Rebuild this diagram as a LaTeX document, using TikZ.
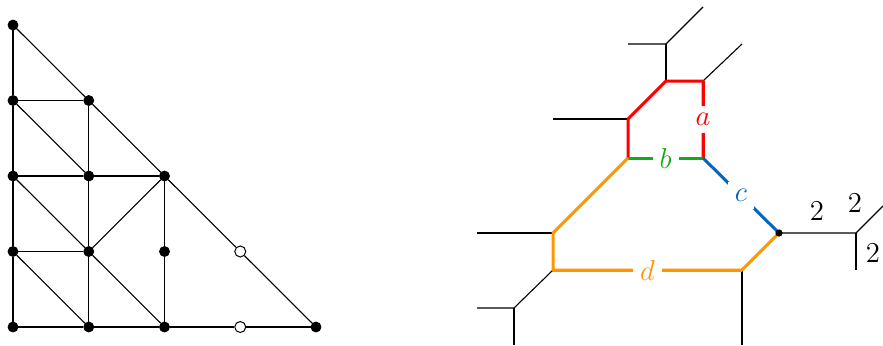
\documentclass[tikz,border=0pt]{standalone}
\usepackage{tikz}
\definecolor{cred}{RGB}{255,0,0}
\definecolor{cgreen}{RGB}{20,170,20}
\definecolor{cblue}{RGB}{0,102,190}
\definecolor{corange}{RGB}{255,150,0}
\tikzset{
  dot/.style={circle,fill=black,draw=black,inner sep=0pt,minimum size=5pt},
  odot/.style={circle,fill=white,draw=black,line width=0.5pt,inner sep=0pt,minimum size=5.5pt},
  edge/.style={draw=black,line width=0.55pt},
  ray/.style={draw=black,line width=0.55pt},
  seg/.style={line width=1.5pt},
  lab/.style={fill=white,inner sep=3.5pt,font=\fontsize{14.7}{17}\selectfont},
  wlab/.style={inner sep=0pt,font=\fontsize{14.7}{17}\selectfont},
  vdot/.style={circle,fill=black,inner sep=0pt,minimum size=3.6pt}
}
\begin{document}
\begin{tikzpicture}[x=0.5pt,y=-0.5pt]
\useasboundingbox (0,0) rectangle (883,345);
% ---------- left: subdivided triangle ----------
\foreach \i/\j in {0/4,0/3,1/3,0/2,1/2,2/2,0/1,1/1,2/1,0/0,1/0,2/0,4/0}
  \node[dot] (p\i\j) at ({13+75.75*\i},{327-75.5*\j}) {};
\foreach \i/\j in {3/1,3/0}
  \node[odot] (p\i\j) at ({13+75.75*\i},{327-75.5*\j}) {};
% boundary
\draw[edge] (p04) -- (p13) -- (p22) -- (p31) -- (p40);
\draw[edge] (p04) -- (p03) -- (p02) -- (p01) -- (p00);
\draw[edge] (p00) -- (p10) -- (p20) -- (p30) -- (p40);
% horizontals
\draw[edge] (p03) -- (p13);
\draw[edge] (p02) -- (p12) -- (p22);
\draw[edge] (p01) -- (p11);
% verticals
\draw[edge] (p13) -- (p12) -- (p11) -- (p10);
\draw[edge] (p22) -- (p21) -- (p20);
% diagonals
\draw[edge] (p03) -- (p12);
\draw[edge] (p02) -- (p11) -- (p20);
\draw[edge] (p01) -- (p10);
\draw[edge] (p11) -- (p22);
% ---------- right: tropical curve ----------
\coordinate (V1) at (666,44);
\coordinate (L1) at (628,44);
\coordinate (R1) at (703,7);
\coordinate (V2) at (666,81);
\coordinate (V3) at (703,81);
\coordinate (R3) at (742,44);
\coordinate (V4) at (628,119);
\coordinate (L4) at (553,119);
\coordinate (V5) at (628,158);
\coordinate (V6) at (703,158);
\coordinate (V7) at (779,233);
\coordinate (V8) at (856,233);
\coordinate (R8) at (883,206);
\coordinate (D8) at (856,270);
\coordinate (V9) at (742,270);
\coordinate (D9) at (742,345);
\coordinate (V10) at (553,270);
\coordinate (V11) at (553,233);
\coordinate (L11) at (477,233);
\coordinate (V12) at (514,308);
\coordinate (L12) at (477,308);
\coordinate (D12) at (514,345);
% black edges and rays
\draw[ray] (L1) -- (V1) -- (R1);
\draw[ray] (V1) -- (V2);
\draw[ray] (V3) -- (R3);
\draw[ray] (V4) -- (L4);
\draw[ray] (V11) -- (L11);
\draw[ray] (V10) -- (V12) -- (L12);
\draw[ray] (V12) -- (D12);
\draw[ray] (V9) -- (D9);
\draw[ray] (V7) -- (V8) -- (R8);
\draw[ray] (V8) -- (D8);
% coloured cycle
\draw[seg,cred,line join=round] (V6) -- (V3) -- (V2) -- (V4) -- (V5);
\draw[seg,cred] (V3) -- (V6) node[lab,midway,text=cred] {$a$};
\draw[seg,cgreen] (V5) -- (V6) node[lab,midway,text=cgreen] {$b$};
\draw[seg,cblue] (V6) -- (V7) node[lab,midway,text=cblue] {$c$};
\draw[seg,corange,line join=round] (V7) -- (V9) -- (V10) -- (V11) -- (V5);
\draw[seg,corange] (V9) -- (V10) node[lab,midway,text=corange] {$d$};
\node[vdot] (dV7) at (V7) {};
% weights
\node[wlab] (w1) at (817,211) {$2$};
\node[wlab] (w2) at (855,203) {$2$};
\node[wlab] (w3) at (873,253) {$2$};
\end{tikzpicture}
\end{document}
